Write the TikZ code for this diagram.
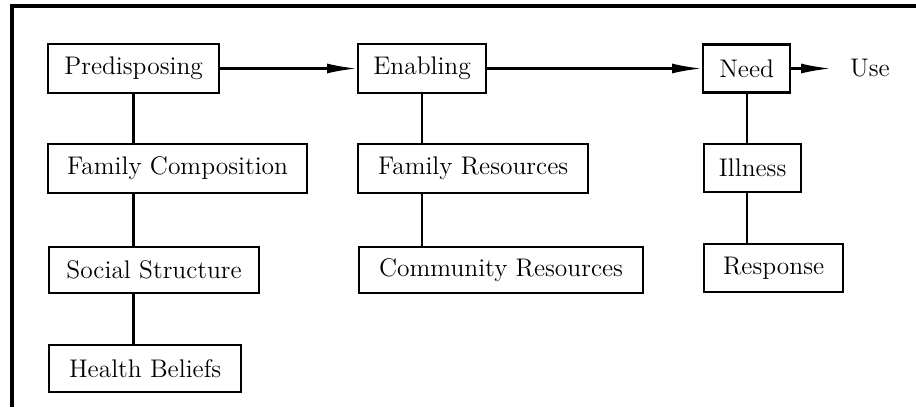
\documentclass[tikz,border=0pt]{standalone}
\usetikzlibrary{arrows.meta}

\begin{document}
\begin{tikzpicture}[x=0.02cm, y=-0.02cm, line width=1.3pt,
  every node/.style={font=\fontsize{14.5}{17}\selectfont},
  box/.style={draw, anchor=west, minimum height=0.98cm, inner sep=0pt},
  flow/.style={-{Latex[length=0.6cm, width=0.2cm]}}]
\useasboundingbox (0,0) rectangle (916,407);
\draw[line width=1.8pt] (12,407) -- (12,6) -- (916,6);

\node[box, minimum width=3.42cm] (pred) at (47,68.5) {Predisposing};
\node[box, minimum width=5.18cm] (famc) at (47,168.5) {Family Composition};
\node[box, minimum width=4.2cm, minimum height=0.92cm] (soc) at (48,270) {Social Structure};
\node[box, minimum width=3.84cm, minimum height=0.94cm] (hb) at (48,368.5) {Health Beliefs};

\node[box, minimum width=2.56cm] (enab) at (357,68.5) {Enabling};
\node[box, minimum width=4.6cm] (famr) at (357,168.5) {Family Resources};
\node[box, minimum width=5.68cm, minimum height=0.92cm] (comm) at (358,270) {Community Resources};

\node[box, minimum width=1.74cm, minimum height=0.96cm] (need) at (702,68.5) {Need};
\node[box, minimum width=1.94cm, minimum height=0.96cm] (ill) at (703,168) {Illness};
\node[box, minimum width=2.78cm, minimum height=0.96cm] (resp) at (703,268) {Response};
\node[anchor=west, inner sep=0.36cm] (use) at (831,68.5) {Use};

\draw[flow] (pred) -- (enab);
\draw[flow] (enab) -- (need);
\draw[flow] (need) -- (use);

\draw (pred.south) -- (pred.south |- famc.north);
\draw (pred.south |- famc.south) -- (pred.south |- soc.north);
\draw (pred.south |- soc.south) -- (pred.south |- hb.north);
\draw (enab.south) -- (enab.south |- famr.north);
\draw (enab.south |- famr.south) -- (enab.south |- comm.north);
\draw (need.south) -- (need.south |- ill.north);
\draw (need.south |- ill.south) -- (need.south |- resp.north);
\end{tikzpicture}
\end{document}
